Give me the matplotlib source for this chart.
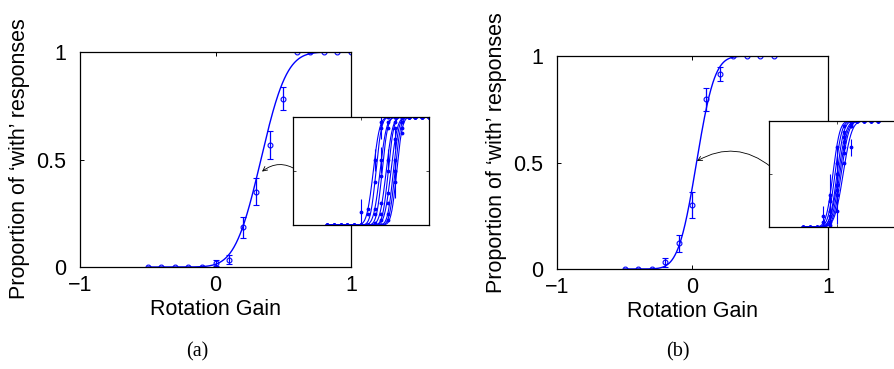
import math
import numpy as np
import matplotlib
matplotlib.use('Agg')
from matplotlib import pyplot as plt

plt.rcParams['font.family'] = ['Liberation Sans', 'DejaVu Sans']

# (a) pooled data
gains_a = [-0.5, -0.4, -0.3, -0.2, -0.1, 0.0, 0.1, 0.2, 0.3, 0.4, 0.5, 0.6, 0.7, 0.8, 0.9, 1.0]
prop_a = [0, 0, 0, 0, 0, 0.019, 0.034, 0.184, 0.35, 0.566, 0.783, 1, 1, 1, 1, 1]
err_a = [0, 0, 0, 0, 0, 0.015, 0.02, 0.05, 0.062, 0.065, 0.053, 0, 0, 0, 0, 0]
fit_mu_a = 0.335
fit_sd_a = 0.15

# (b) pooled data
gains_b = [-0.5, -0.4, -0.3, -0.2, -0.1, 0.0, 0.1, 0.2, 0.3, 0.4, 0.5, 0.6]
prop_b = [0, 0, 0, 0.031, 0.122, 0.301, 0.797, 0.917, 1, 1, 1, 1]
err_b = [0, 0, 0, 0.022, 0.04, 0.061, 0.055, 0.033, 0, 0, 0, 0]
fit_mu_b = 0.03
fit_sd_b = 0.105

# individual subjects (insets)
subj_mu_a = [0.18, 0.22, 0.28, 0.31, 0.37, 0.40, 0.44, 0.475, 0.50, 0.525]
subj_sd_a = [0.075, 0.065, 0.075, 0.065, 0.075, 0.065, 0.075, 0.065, 0.065, 0.065]
subj_prop_a = [
    [0, 0, 0, 0, 0, 0.12, 0.15, 0.6, 0.9, 1, 1, 1, 1, 1, 1, 1],
    [0, 0, 0, 0, 0, 0, 0.1, 0.4, 0.95, 1, 1, 1, 1, 1, 1, 1],
    [0, 0, 0, 0, 0, 0, 0, 0.15, 0.6, 0.95, 1, 1, 1, 1, 1, 1],
    [0, 0, 0, 0, 0, 0, 0, 0.1, 0.45, 0.9, 1, 1, 1, 1, 1, 1],
    [0, 0, 0, 0, 0, 0, 0, 0.02, 0.2, 0.6, 0.95, 1, 1, 1, 1, 1],
    [0, 0, 0, 0, 0, 0, 0, 0, 0.1, 0.5, 0.9, 1, 1, 1, 1, 1],
    [0, 0, 0, 0, 0, 0, 0, 0, 0.05, 0.3, 0.8, 1, 1, 1, 1, 1],
    [0, 0, 0, 0, 0, 0, 0, 0, 0, 0.2, 0.6, 0.95, 1, 1, 1, 1],
    [0, 0, 0, 0, 0, 0, 0, 0, 0, 0.1, 0.5, 0.9, 1, 1, 1, 1],
    [0, 0, 0, 0, 0, 0, 0, 0, 0, 0.05, 0.4, 0.85, 1, 1, 1, 1],
]
subj_err_a = [
    [0, 0, 0, 0, 0, 0.12, 0, 0.1, 0.1, 0, 0, 0, 0, 0, 0, 0],
    [0, 0, 0, 0, 0, 0, 0, 0, 0, 0, 0, 0, 0, 0, 0, 0],
    [0, 0, 0, 0, 0, 0, 0, 0, 0.12, 0, 0, 0, 0, 0, 0, 0],
    [0, 0, 0, 0, 0, 0, 0, 0, 0, 0, 0, 0, 0, 0, 0, 0],
    [0, 0, 0, 0, 0, 0, 0, 0, 0, 0.1, 0, 0, 0, 0, 0, 0],
    [0, 0, 0, 0, 0, 0, 0, 0, 0, 0, 0, 0, 0, 0, 0, 0],
    [0, 0, 0, 0, 0, 0, 0, 0, 0, 0, 0.1, 0, 0, 0, 0, 0],
    [0, 0, 0, 0, 0, 0, 0, 0, 0, 0, 0, 0, 0, 0, 0, 0],
    [0, 0, 0, 0, 0, 0, 0, 0, 0, 0, 0.1, 0, 0, 0, 0, 0],
    [0, 0, 0, 0, 0, 0, 0, 0, 0, 0, 0.15, 0, 0, 0, 0, 0],
]

subj_mu_b = [-0.06, -0.03, 0.0, 0.02, 0.04, 0.06, 0.09]
subj_sd_b = [0.08, 0.08, 0.08, 0.09, 0.09, 0.09, 0.1]
subj_prop_b = [
    [0, 0, 0, 0.1, 0.3, 0.75, 0.95, 1, 1, 1, 1, 1],
    [0, 0, 0, 0.05, 0.25, 0.6, 0.9, 1, 1, 1, 1, 1],
    [0, 0, 0, 0, 0.15, 0.5, 0.85, 1, 1, 1, 1, 1],
    [0, 0, 0, 0, 0.1, 0.4, 0.8, 0.97, 1, 1, 1, 1],
    [0, 0, 0, 0, 0.05, 0.35, 0.75, 0.95, 1, 1, 1, 1],
    [0, 0, 0, 0, 0.02, 0.3, 0.7, 0.95, 1, 1, 1, 1],
    [0, 0, 0, 0, 0, 0.15, 0.6, 0.75, 1, 1, 1, 1],
]
subj_err_b = [
    [0, 0, 0, 0.1, 0.2, 0, 0, 0, 0, 0, 0, 0],
    [0, 0, 0, 0, 0, 0.15, 0, 0, 0, 0, 0, 0],
    [0, 0, 0, 0, 0.12, 0, 0, 0, 0, 0, 0, 0],
    [0, 0, 0, 0, 0, 0.12, 0.1, 0, 0, 0, 0, 0],
    [0, 0, 0, 0, 0, 0, 0, 0, 0, 0, 0, 0],
    [0, 0, 0, 0, 0, 0.1, 0, 0, 0, 0, 0, 0],
    [0, 0, 0, 0, 0, 0.12, 0, 0.08, 0, 0, 0, 0],
]

blue = '#0000ff'


def cdf(x, mu, sd):
    return np.array([0.5 * (1 + math.erf((v - mu) / (sd * math.sqrt(2)))) for v in x])


def style_axes(ax, labels=True):
    ax.set_xlim(-1, 1)
    ax.set_ylim(0, 1)
    ax.set_xticks([-1, 0, 1])
    ax.set_yticks([0, 0.5, 1])
    for s in ax.spines.values():
        s.set_linewidth(0.9)
    if labels:
        ax.set_xticklabels(['\u22121', '0', '1'])
        ax.set_yticklabels(['0', '0.5', '1'])
        ax.tick_params(direction='in', top=True, right=True, length=3, width=0.7,
                       labelsize=15.5)
        ax.tick_params(axis='x', pad=6)
        ax.tick_params(axis='y', pad=10)
    else:
        ax.set_xticklabels([])
        ax.set_yticklabels([])
        ax.tick_params(direction='in', top=True, right=True, length=2, width=0.5)


def draw_main(ax, gains, props, errs, mu, sd):
    xs = np.linspace(gains[0], gains[-1], 300)
    ax.plot(xs, cdf(xs, mu, sd), color=blue, lw=1)
    ax.errorbar(gains, props, yerr=errs, fmt='o', ms=3.5, mfc='none', mec=blue,
                mew=0.8, ecolor=blue, elinewidth=0.9, capsize=2, capthick=0.8)
    style_axes(ax)
    ax.set_xlabel('Rotation Gain', fontsize=15.5, labelpad=2)
    ax.set_ylabel('Proportion of \u2018with\u2019 responses', fontsize=15.5)


def draw_inset(ax, gains, props, errs, mus, sds):
    xs = np.linspace(gains[0], gains[-1], 300)
    for p, e, mu, sd in zip(props, errs, mus, sds):
        ax.plot(xs, cdf(xs, mu, sd), color=blue, lw=0.8)
        ax.errorbar(gains, p, yerr=e, fmt='.', ms=3.5, color=blue,
                    elinewidth=0.8, capsize=0)
    style_axes(ax, labels=False)


fig = plt.figure(figsize=(8.95, 3.69), dpi=100)

ax_a = fig.add_axes([0.0894, 0.2764, 0.3028, 0.5827])
draw_main(ax_a, gains_a, prop_a, err_a, fit_mu_a, fit_sd_a)
ax_a.yaxis.set_label_coords(-0.185, 0.505)
ax_a.annotate('', xy=(0.343, 0.444), xytext=(0.6, 0.451),
              arrowprops=dict(arrowstyle='->', connectionstyle='arc3,rad=0.35',
                              lw=0.6, color='k', shrinkA=0, shrinkB=0,
                              mutation_scale=8),
              annotation_clip=False)

ax_b = fig.add_axes([0.6223, 0.271, 0.3028, 0.577])
draw_main(ax_b, gains_b, prop_b, err_b, fit_mu_b, fit_sd_b)
ax_b.yaxis.set_label_coords(-0.185, 0.547)
ax_b.annotate('', xy=(0.033, 0.507), xytext=(0.58, 0.479),
              arrowprops=dict(arrowstyle='->', connectionstyle='arc3,rad=0.34',
                              lw=0.6, color='k', shrinkA=0, shrinkB=0,
                              mutation_scale=8),
              annotation_clip=False)

in_a = fig.add_axes([0.3274, 0.3902, 0.152, 0.2927])
in_a.set_facecolor('white')
draw_inset(in_a, gains_a, subj_prop_a, subj_err_a, subj_mu_a, subj_sd_a)

in_b = fig.add_axes([0.8592, 0.3848, 0.152, 0.2873])
in_b.set_facecolor('white')
draw_inset(in_b, gains_b, subj_prop_b, subj_err_b, subj_mu_b, subj_sd_b)

fig.text(197 / 895, 1 - 352 / 369, '(a)', ha='center', va='center', fontsize=14.5,
         family=['Liberation Serif', 'DejaVu Serif'])
fig.text(678 / 895, 1 - 352 / 369, '(b)', ha='center', va='center', fontsize=14.5,
         family=['Liberation Serif', 'DejaVu Serif'])

fig.savefig('out.png', dpi=100)
